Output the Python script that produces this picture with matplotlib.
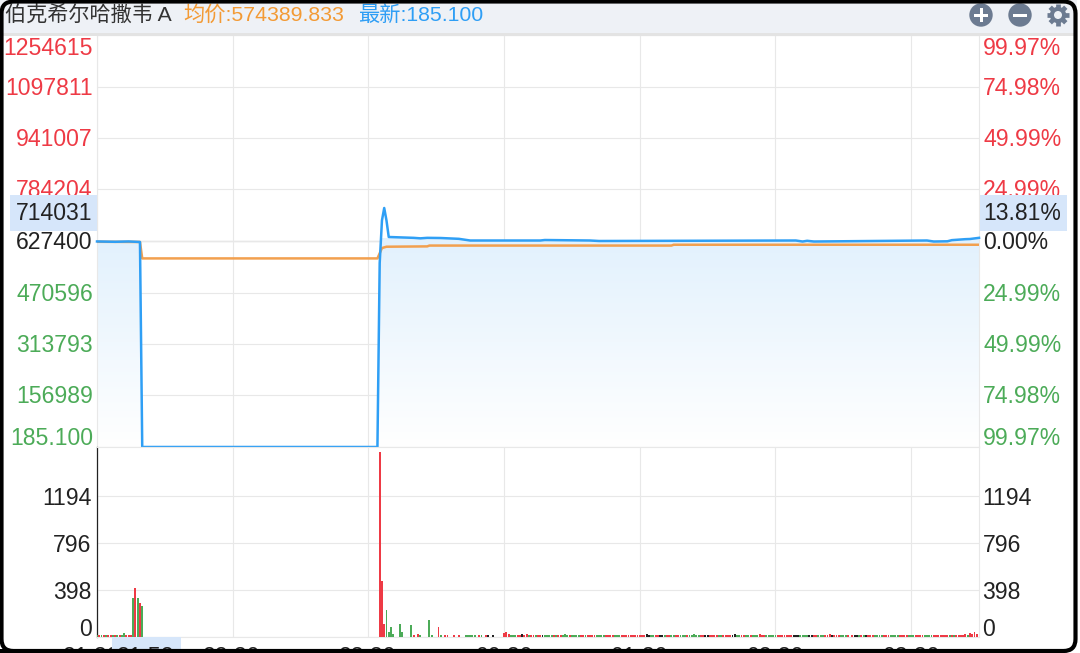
import numpy as np
import matplotlib
matplotlib.use('Agg')
import matplotlib.pyplot as plt
from matplotlib.colors import LinearSegmentedColormap
from matplotlib.patches import Rectangle, Circle, FancyBboxPatch
from matplotlib.transforms import ScaledTranslation

plt.rcParams['font.family'] = ['Liberation Sans', 'Noto Sans CJK SC', 'DejaVu Sans']

# header
title = '伯克希尔哈撒韦 A'
avg_text = '均价:574389.833'
last_text = '最新:185.100'

# price axis
price_ticks = [185.1, 156989, 313793, 470596, 627400, 784204, 941007, 1097811, 1254615]
price_labels = ['185.100', '156989', '313793', '470596', '627400', '784204', '941007', '1097811', '1254615']
pct_labels = ['99.97%', '74.98%', '49.99%', '24.99%', '0.00%', '24.99%', '49.99%', '74.98%', '99.97%']

# minutes since the open
time_ticks = [0, 60, 120, 180, 240, 300, 360]
time_labels = ['21:30', '22:30', '23:30', '00:30', '01:30', '02:30', '03:30']
cursor_time = '21:52'
cursor_price = '714031'
cursor_pct = '13.81%'

last_t = [0, 8, 14, 19, 20, 124, 125, 126, 127, 128, 129, 140, 143, 146, 152, 160, 165, 196, 198, 218, 222, 309, 312, 314, 317, 367, 370, 376, 378, 384, 386, 390]
last_p = [626000, 625000, 626000, 624400, 185.1, 185.1, 560000, 690000, 727900, 690000, 639600, 637000, 635500, 637000, 636500, 634000, 628900, 628900, 630400, 628900, 627400, 628900, 625800, 628000, 625800, 628900, 625800, 626500, 630000, 633000, 633500, 637000]

avg_t = [0, 19, 20, 124, 125, 126, 128, 146, 147, 254, 255, 390]
avg_p = [625000, 624400, 574389, 574389, 590000, 606000, 610000, 611000, 613500, 613500, 616000, 616000]

# volume, first session minutes
vol_ticks = [0, 398, 796, 1194]
vol_t = [0, 1, 2, 3, 4, 5, 6, 7, 8, 9, 10, 11, 12, 13, 14, 15, 16, 17, 18, 19, 20,
         125, 126, 127, 128, 129, 130, 131, 134, 135, 139, 140, 142, 143, 147, 148, 151, 152, 154, 155, 158, 160,
         163, 164, 165, 166, 167, 169, 170, 172, 173, 175]
vol_v = [15, 15, 14, 15, 15, 14, 15, 15, 14, 15, 15, 15, 35, 15, 15, 15, 333, 418, 328, 285, 262,
         1567, 474, 110, 229, 45, 85, 25, 113, 45, 102, 17, 28, 17, 141, 17, 85, 14, 20, 14, 15, 20,
         20, 15, 15, 15, 20, 15, 15, 15, 15, 15]
vol_d = 'grgrgrrgrgrggrrrgrgrg'[:21] + 'rrrgggggggrrgggrgrrrr' + 'gggggrgrkkr'

# volume, rest of the day, one entry a minute from minute 180
tail_v = [35, 40, 22, 17, 20, 17, 17, 15, 24, 20, 22, 17, 20, 17, 20, 15, 17, 15, 20, 17,
          15, 17, 17, 20, 17, 15, 17, 24, 20, 17, 15, 17, 17, 15, 17, 17, 20, 15, 17, 15,
          17, 17, 15, 17, 17, 17, 17, 17, 15, 17, 17, 15, 17, 17, 15, 17, 17, 17, 15, 17,
          17, 15, 17, 22, 17, 15, 17, 17, 15, 20, 17, 17, 15, 17, 17, 15, 17, 17, 17, 15,
          17, 17, 15, 17, 22, 17, 15, 17, 17, 15, 17, 17, 17, 15, 17, 17, 15, 17, 17, 15,
          17, 17, 26, 17, 15, 17, 17, 15, 17, 17, 17, 15, 17, 26, 17, 15, 17, 17, 15, 17,
          17, 15, 17, 17, 17, 15, 17, 17, 15, 17, 17, 17, 15, 17, 17, 15, 17, 17, 15, 17,
          20, 17, 15, 17, 22, 17, 15, 17, 17, 15, 17, 17, 15, 0, 17, 17, 15, 17, 17, 15,
          17, 17, 15, 17, 17, 17, 15, 17, 17, 15, 17, 17, 17, 15, 17, 17, 15, 17, 17, 15,
          17, 17, 15, 17, 17, 17, 15, 17, 17, 15, 17, 17, 15, 17, 17, 15, 17, 17, 15, 17,
          17, 15, 20, 17, 22, 20, 35, 22, 40, 28]
tail_d = ('rrgggrrkrr' 'grrgrrkggg' 'grgrrgggrg' 'gggrrgrrrr' 'ggggrrrrgg'
          'grrrrrrrrr' 'rrkkggrrkk' 'grrggrrggg' 'rgggggrrkk' 'rrrrggrrrr'
          'kkggrrggrg' 'ggrrrggggg' 'rrrrrrrkkk' 'ggggkkrrgg' 'grrrkrrrgg'
          'grgrkkgrgk' 'rrrggggrrr' 'ggggrrrrgg' 'grrrrggggr' 'rrrrrrgrgr'
          'rrrrgrrrrr')

BLUE = '#2f9ff5'
ORANGE = '#f2a04f'
RED = '#ee3a45'
GREEN = '#4cab58'
GRID = '#e8e8e8'
ICON = '#6c7b91'
FS = 16.6
W, H = 1080, 653


def add_axes_px(fig, left, top, right, bottom):
    return fig.add_axes([left / W, 1 - bottom / H, (right - left) / W, (bottom - top) / H])


def color_of(d):
    return {'r': RED, 'g': GREEN, 'k': '#222222'}[d]


def nudge(label, fig, px):
    # px > 0 moves the label down
    label.set_transform(label.get_transform() + ScaledTranslation(0, -px / 100, fig.dpi_scale_trans))


fig = plt.figure(figsize=(10.8, 6.53), dpi=100, facecolor='white')

# price panel
ax = add_axes_px(fig, 97, 35, 979, 447)
xlim = (0, 390)
ylim = (185.1, 1254615)
poly = ax.fill_between(last_t, last_p, 185.1, facecolor='none', edgecolor='none')
cmap = LinearSegmentedColormap.from_list('fade', ['#ffffff', '#e2f1fd'])
im = ax.imshow(np.linspace(1, 0, 256).reshape(-1, 1), cmap=cmap, aspect='auto',
               extent=(0, 390, 185.1, 634000), zorder=1)
im.set_clip_path(poly.get_paths()[0], transform=ax.transData)
ax.set_xlim(xlim)
ax.set_ylim(ylim)
ax.plot(avg_t, avg_p, color=ORANGE, lw=1.8, zorder=3)
ax.plot(last_t, last_p, color=BLUE, lw=1.8, zorder=4, clip_on=False)
ax.set_xticks(time_ticks)
ax.set_xticklabels([])
ax.set_yticks(price_ticks)
ax.set_yticklabels(price_labels)
ax.grid(True, color=GRID, lw=0.8, zorder=0)
ax.set_axisbelow(True)
ax.axhline(627400, color='#d9d9d9', lw=1.0, zorder=0.5)
ax.tick_params(length=0, labelsize=FS, pad=3)
for s in ax.spines.values():
    s.set_color(GRID)
    s.set_linewidth(0.8)

axr = ax.twinx()
axr.set_ylim(ylim)
axr.set_yticks(price_ticks)
axr.set_yticklabels(pct_labels)
axr.tick_params(length=0, labelsize=FS, pad=3)
for s in axr.spines.values():
    s.set_visible(False)

for a in (ax, axr):
    labels = a.get_yticklabels()
    for i, lab in enumerate(labels):
        if i < 4:
            lab.set_color(GREEN)
        elif i == 4:
            lab.set_color('#222222')
        else:
            lab.set_color(RED)
        if 0 < i < 8:
            nudge(lab, fig, -1)
    labels[0].set_verticalalignment('bottom')
    labels[-1].set_verticalalignment('top')
    nudge(labels[0], fig, 3)
    nudge(labels[-1], fig, 2)

# volume panel
axv = add_axes_px(fig, 97, 447, 979, 637)
all_t = list(vol_t) + [180 + i for i in range(len(tail_v))]
all_v = list(vol_v) + list(tail_v)
all_d = vol_d + tail_d
axv.bar(all_t, all_v, width=0.85, align='center', color=[color_of(d) for d in all_d], zorder=3)
axv.set_xlim(xlim)
axv.set_ylim(0, 1609)
axv.set_xticks(time_ticks)
axv.set_xticklabels([])
axv.set_yticks(vol_ticks)
axv.set_yticklabels([str(v) for v in vol_ticks])
axv.grid(True, color=GRID, lw=0.8, zorder=0)
axv.set_axisbelow(True)
axv.tick_params(length=0, labelsize=FS, labelcolor='#222222', pad=4)
for s in axv.spines.values():
    s.set_color(GRID)
    s.set_linewidth(0.8)
axv.spines['left'].set_color('#222222')
axv.spines['left'].set_linewidth(0.9)
axv.get_yticklabels()[0].set_verticalalignment('bottom')
nudge(axv.get_yticklabels()[0], fig, 4)

axvr = axv.twinx()
axvr.set_ylim(0, 1609)
axvr.set_yticks(vol_ticks)
axvr.set_yticklabels([str(v) for v in vol_ticks])
axvr.tick_params(length=0, labelsize=FS, labelcolor='#222222', pad=2.5)
for s in axvr.spines.values():
    s.set_visible(False)
axvr.get_yticklabels()[0].set_verticalalignment('bottom')
nudge(axvr.get_yticklabels()[0], fig, 4)

# header, cursor labels and the frame, in picture pixels
over = fig.add_axes([0, 0, 1, 1], facecolor='none')
over.set_xlim(0, W)
over.set_ylim(H, 0)
over.axis('off')

over.add_patch(Rectangle((0, 0), W, 33, color='#eef1f6', lw=0))
over.add_patch(Rectangle((0, 33), W, 2.5, color='#e3e3e3', lw=0))
over.text(5, 15, title, fontsize=15.2, color='#333333', va='center', ha='left')
over.text(183, 15, avg_text, fontsize=15.3, color='#f39a34', va='center', ha='left')
over.text(358, 15, last_text, fontsize=15.3, color='#2e9ef5', va='center', ha='left')

over.add_patch(Circle((981, 15), 11.7, color=ICON, lw=0))
over.add_patch(Rectangle((974, 13.5), 14, 3, color='white', lw=0))
over.add_patch(Rectangle((979.5, 8), 3, 14, color='white', lw=0))
over.add_patch(Circle((1020, 15), 11.7, color=ICON, lw=0))
over.add_patch(Rectangle((1013, 13.5), 14, 3, color='white', lw=0))
# gear icon
gx, gy = 1058, 15
for ang in np.deg2rad([0, 45, 90, 135]):
    dx, dy = 11 * np.cos(ang), 11 * np.sin(ang)
    over.plot([gx - dx, gx + dx], [gy - dy, gy + dy], color=ICON, lw=3.4, solid_capstyle='butt')
over.add_patch(Circle((gx, gy), 8.2, color=ICON, lw=0, zorder=2.1))
over.add_patch(Circle((gx, gy), 4, color='#eef1f6', lw=0, zorder=2.2))

over.add_patch(Rectangle((10, 195), 87, 36, color='#d6e6fa', lw=0))
over.text(92, 213, cursor_price, fontsize=FS, color='#222222', va='center', ha='right')
over.add_patch(Rectangle((980, 195), 87, 36, color='#d6e6fa', lw=0))
over.text(983, 213, cursor_pct, fontsize=FS, color='#222222', va='center', ha='left')

for px, lab in zip([92, 232, 368, 504, 639, 775, 911], time_labels):
    over.text(px, 658, lab, fontsize=FS, color='#222222', va='center', ha='center', zorder=3)
over.add_patch(Rectangle((112, 637), 69, 16, color='#d6e6fa', lw=0, zorder=3.5))
over.text(146, 658, cursor_time, fontsize=FS, color='#222222', va='center', ha='center', zorder=4)

# white outside the rounded black frame
over.add_patch(Rectangle((1077, 0), 3, H, color='white', lw=0, zorder=5))
over.add_patch(FancyBboxPatch((1.5, 1.5), 1074, 649.5, boxstyle='round,pad=0,rounding_size=12',
                              facecolor='none', edgecolor='black', lw=3, zorder=6))
over.add_patch(Rectangle((0, 649), 1062, 4, color='black', lw=0, zorder=6))

over.set_xlim(0, W)
over.set_ylim(H, 0)

fig.savefig('out.png', dpi=100)
